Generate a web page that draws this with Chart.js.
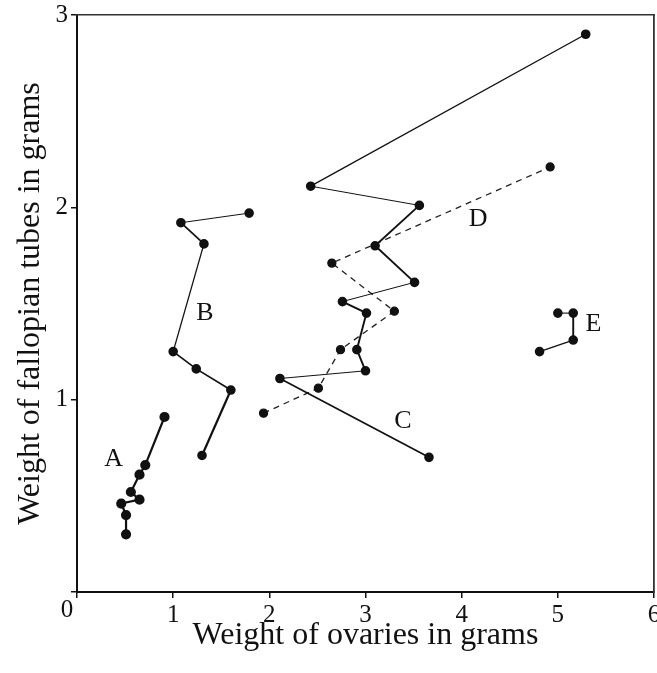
<!DOCTYPE html>
<html>
<head>
<meta charset="utf-8">
<script src="https://cdn.jsdelivr.net/npm/chart.js@4/dist/chart.umd.min.js"></script>
<style>
  html, body { margin: 0; padding: 0; background: #ffffff; }
  #wrap { width: 657px; height: 673px; position: relative; }
</style>
</head>
<body>
<div id="wrap"><canvas id="c" width="657" height="673"></canvas></div>
<script>
// ---- Data ----
const xTickValues = [0, 1, 2, 3, 4, 5, 6];
const yTickValues = [0, 1, 2, 3];

const seriesA_x = [0.51, 0.51, 0.46, 0.65, 0.56, 0.65, 0.71, 0.91];
const seriesA_y = [0.30, 0.40, 0.46, 0.48, 0.52, 0.61, 0.66, 0.91];

const seriesB_x = [1.30, 1.60, 1.24, 1.00, 1.32, 1.08, 1.79];
const seriesB_y = [0.71, 1.05, 1.16, 1.25, 1.81, 1.92, 1.97];

const seriesC_x = [3.66, 2.11, 3.00, 2.91, 3.01, 2.76, 3.51, 3.10, 3.56, 2.43, 5.29];
const seriesC_y = [0.70, 1.11, 1.15, 1.26, 1.45, 1.51, 1.61, 1.80, 2.01, 2.11, 2.90];

const seriesD_x = [1.94, 2.51, 2.74, 3.30, 2.65, 4.92];
const seriesD_y = [0.93, 1.06, 1.26, 1.46, 1.71, 2.21];

const seriesE_x = [4.81, 5.16, 5.16, 5.00];
const seriesE_y = [1.25, 1.31, 1.45, 1.45];

const seriesNames = ['A', 'B', 'C', 'D', 'E'];
const labelAnchorX = [0.38, 1.33, 3.39, 4.17, 5.37];
const labelAnchorY = [0.69, 1.45, 0.89, 1.94, 1.39];

const xTitle = 'Weight of ovaries in grams';
const yTitle = 'Weight of fallopian tubes in grams';

// ---- Styling ----
const FONT = '"Liberation Serif", "Times New Roman", serif';
const INK = '#111111';
const widthsB = [2.2, 1.7, 1.7, 1.3, 1.7, 1.0];
const widthsC = [1.7, 1.0, 1.9, 1.9, 1.9, 1.0, 1.9, 1.9, 1.0, 1.3];
const widthsE = [1.4, 1.9, 1.1];

function pts(xs, ys) { return xs.map((x, i) => ({ x: x, y: ys[i] })); }

function lineSet(label, xs, ys, opts) {
  return Object.assign({
    label: label,
    data: pts(xs, ys),
    showLine: true,
    borderColor: INK,
    backgroundColor: INK,
    pointBackgroundColor: INK,
    pointBorderColor: INK,
    pointRadius: 4,
    pointHoverRadius: 4,
    borderWidth: 1.6,
    tension: 0
  }, opts || {});
}

const labelPlugin = {
  id: 'seriesLabels',
  afterDatasetsDraw(chart) {
    const ctx = chart.ctx;
    const xs = chart.scales.x, ys = chart.scales.y;
    ctx.save();
    ctx.fillStyle = INK;
    ctx.font = '26px ' + FONT;
    ctx.textAlign = 'center';
    ctx.textBaseline = 'middle';
    seriesNames.forEach((n, i) => {
      ctx.fillText(n, xs.getPixelForValue(labelAnchorX[i]), ys.getPixelForValue(labelAnchorY[i]));
    });
    // shared origin label
    ctx.font = '25px ' + FONT;
    ctx.fillText(String(xTickValues[0]), xs.getPixelForValue(0) - 10, ys.getPixelForValue(0) + 18);
    ctx.restore();
  }
};

const tickFont = { family: FONT, size: 25 };
const titleFont = { family: FONT, size: 32 };

function noPad(s) { s.paddingLeft = 0; s.paddingRight = 0; s.paddingTop = 0; s.paddingBottom = 0; }

new Chart(document.getElementById('c'), {
  type: 'scatter',
  data: {
    datasets: [
      lineSet('A', seriesA_x, seriesA_y, { borderWidth: 2.2 }),
      lineSet('B', seriesB_x, seriesB_y, { segment: { borderWidth: c => widthsB[c.p0DataIndex] } }),
      lineSet('C', seriesC_x, seriesC_y, { segment: { borderWidth: c => widthsC[c.p0DataIndex] } }),
      lineSet('D', seriesD_x, seriesD_y, { borderWidth: 1.3, borderDash: [6, 5], borderColor: '#222222' }),
      lineSet('E', seriesE_x, seriesE_y, { segment: { borderWidth: c => widthsE[c.p0DataIndex] } })
    ]
  },
  options: {
    responsive: false,
    animation: false,
    events: [],
    layout: { autoPadding: false, padding: { top: 15, right: 3, left: 0, bottom: 0 } },
    plugins: { legend: { display: false }, tooltip: { enabled: false }, title: { display: false } },
    scales: {
      x: {
        type: 'linear', position: 'bottom', min: 0, max: 6,
        afterBuildTicks: s => { s.ticks = xTickValues.map(v => ({ value: v })); },
        afterFit: s => { s.height = 81; noPad(s); },
        ticks: {
          color: INK, font: tickFont, padding: 2, maxRotation: 0, autoSkip: false,
          callback: v => (v === 0 ? '' : String(v))
        },
        grid: { display: true, drawOnChartArea: false, drawTicks: true, tickLength: 6, color: INK, lineWidth: 1.5 },
        border: { display: true, color: INK, width: 2 },
        title: { display: true, text: xTitle, color: INK, font: titleFont, padding: { top: 0, bottom: 18 } }
      },
      y: {
        type: 'linear', position: 'left', min: 0, max: 3,
        afterBuildTicks: s => { s.ticks = yTickValues.map(v => ({ value: v })); },
        afterFit: s => { s.width = 77; noPad(s); },
        ticks: {
          color: INK, font: tickFont, padding: 3, autoSkip: false,
          callback: v => (v === 0 ? '' : String(v))
        },
        grid: { display: true, drawOnChartArea: false, drawTicks: true, tickLength: 6, color: INK, lineWidth: 1.5 },
        border: { display: true, color: INK, width: 2 },
        title: { display: true, text: yTitle, color: INK, font: titleFont, padding: { top: 11, bottom: 0 } }
      },
      xTop: {
        type: 'linear', position: 'top', min: 0, max: 6,
        afterFit: s => { s.height = 0; noPad(s); },
        ticks: { display: false },
        grid: { display: false, drawTicks: false },
        border: { display: true, color: '#333333', width: 1.5 }
      },
      yRight: {
        type: 'linear', position: 'right', min: 0, max: 3,
        afterFit: s => { s.width = 0; noPad(s); },
        ticks: { display: false },
        grid: { display: false, drawTicks: false },
        border: { display: true, color: '#333333', width: 1.8 }
      }
    }
  },
  plugins: [labelPlugin]
});
</script>
</body>
</html>
